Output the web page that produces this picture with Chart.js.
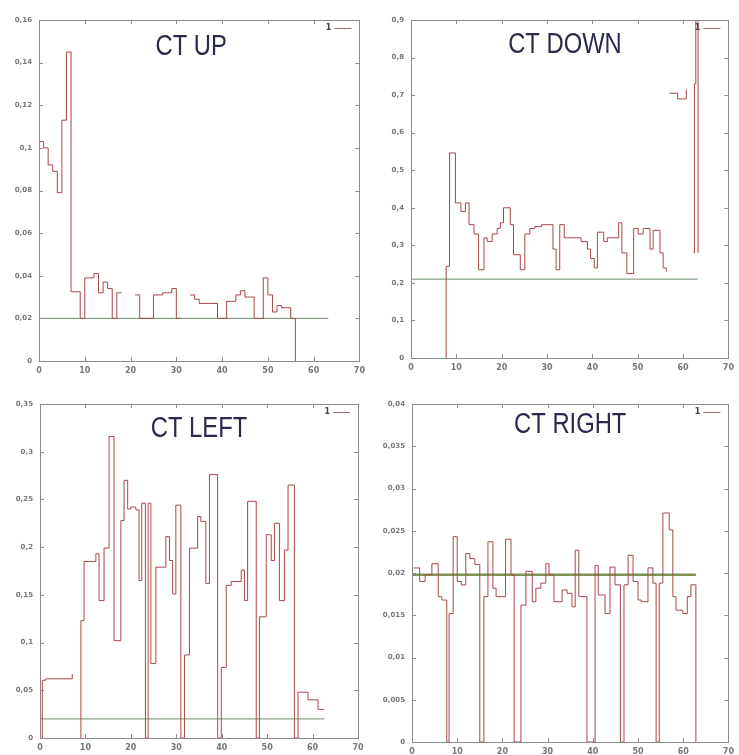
<!DOCTYPE html>
<html>
<head>
<meta charset="utf-8">
<script src="https://cdn.jsdelivr.net/npm/chart.js@4.4.1/dist/chart.umd.min.js"></script>
<style>
  body { margin: 0; background: #fff; width: 739px; height: 755px; position: relative; overflow: hidden; }
  canvas { position: absolute; }
</style>
</head>
<body>
<canvas id="ctUp" width="370" height="378" style="left:0;top:0"></canvas>
<canvas id="ctDown" width="369" height="378" style="left:370px;top:0"></canvas>
<canvas id="ctLeft" width="370" height="377" style="left:0;top:378px"></canvas>
<canvas id="ctRight" width="369" height="377" style="left:370px;top:378px"></canvas>
<script>
// ---- data (step series: value held until next x) ----
const titles = ['CT UP', 'CT DOWN', 'CT LEFT', 'CT RIGHT'];
const keyLabel = '1';
const xTicks = [0, 10, 20, 30, 40, 50, 60, 70];

const upX = [0,1,2,3,4,5,6,7,8,9,10,11,12,13,14,15,16,17,18,19,20,21,22,23,24,25,26,27,28,29,30,31,32,33,34,35,36,37,38,39,40,41,42,43,44,45,46,47,48,49,50,51,52,53,54,55,56];
const upY = [0.103,0.1,0.092,0.089,0.079,0.113,0.145,0.0325,0.0325,0.02,0.039,0.039,0.041,0.032,0.037,0.034,0.02,0.032,0.032,null,null,0.031,0.02,0.02,0.02,0.031,0.031,0.032,0.032,0.034,0.02,0.02,null,0.031,0.029,0.027,0.027,0.027,0.027,0.02,0.02,0.028,0.028,0.031,0.033,0.03,0.03,0.02,0.02,0.039,0.031,0.023,0.026,0.025,0.025,0.02,0];
const upMean = [0.02, 63.2];
const upYTicks = [0, 0.16, 0.02];

const downX = [7.7,7.75,8.5,9.8,11,12,12.8,13.9,14.9,16.1,16.8,17.9,19,19.7,20.4,21.9,22.6,24.1,25.1,26.2,27.3,28.8,31.3,32,32.8,33.8,34.6,37.5,38.9,39.6,40.4,41.1,42.5,43.3,45.8,46.5,47.6,49.1,50.1,51.2,52.7,53.4,54.9,55.6,56.3,56.6,57,58.8,60.7,61,62.3,62.5,62.8,63.3];
const downY = [0,0.244,0.546,0.413,0.39,0.413,0.355,0.33,0.235,0.32,0.31,0.33,0.345,0.36,0.4,0.355,0.275,0.235,0.33,0.345,0.35,0.355,0.29,0.235,0.355,0.32,0.32,0.31,0.29,0.265,0.24,0.335,0.31,0.32,0.36,0.28,0.225,0.345,0.33,0.345,0.29,0.34,0.28,0.24,0.23,null,0.705,0.69,0.715,null,0.28,0.73,0.9,0.28];
const downMean = [0.21, 63.2];
const downYTicks = [0, 0.9, 0.1];

const leftX = [0.4,0.5,1.25,7.1,7.7,8.9,9.0,9.7,12.3,13,14.1,15.2,16.3,17.8,18.5,19.3,20,21.1,21.8,22.4,23.2,23.8,24.4,25.5,27.7,28.5,29.2,29.9,31,31.8,32.9,34.7,35.4,36.5,37.3,39.1,39.9,41,42.1,44.3,45,45.7,47.6,48.3,49.8,50.9,51.6,52.7,53.8,54.6,56,56.8,59,61.2,62.6];
const leftY = [0,0.0605,0.062,0.067,null,0,0.123,0.185,0.193,0.144,0.199,0.316,0.102,0.228,0.27,0.24,0.242,0.239,0.165,0.246,0,0.246,0.078,0.179,0.211,0.186,0.151,0.244,0,0.087,0.199,0.232,0.227,0.162,0.276,0,0.074,0.16,0.164,0.176,0.144,0.248,0,0.127,0.213,0.186,0.225,0.144,0.197,0.265,0,0.048,0.04,0.03,0.03];
const leftMean = [0.02, 62.6];
const leftYTicks = [0, 0.35, 0.05];

const rightX = [0.4,1.7,2.9,4.4,5.8,6.6,7.7,8.2,9.1,10,10.9,11.9,12.8,13.9,15,15.9,16.8,17.9,18.6,20.7,21.9,22.6,24.1,25.2,26.6,27.4,28.5,29.6,30.3,31.4,33.2,34.3,35.4,36.1,36.9,38.7,40.5,41.2,42.7,43.8,44.9,46.1,46.9,47.8,48.9,50,50.7,52.2,53.3,54,54.7,55.5,56.9,57.7,58.4,59.9,60.9,61.7,62.8];
const rightY = [0.0206,0.019,0.0198,0.0211,0.0172,0.0168,0,0.0152,0.0243,0.019,0.0186,0.0223,0.0217,0.021,0,0.0172,0.0237,0.0182,0.0172,0.024,0.0198,0,0.0162,0.0202,0.0166,0.0182,0.0188,0.0211,0.0198,0.0166,0.018,0.0176,0.016,0.0227,0.0172,0,0.0209,0.0174,0.0152,0.0207,0.0186,0,0.0186,0.0221,0.019,0.0168,0.0166,0.0206,0.0188,0,0.0188,0.0271,0.0251,0.0172,0.0156,0.0152,0.0172,0.0186,0];
const rightMean = [0.0198, 62.8];
const rightYTicks = [0, 0.04, 0.005];

// ---- drawing ----
function fmt(v) {
  return String(+v.toFixed(4)).replace('.', ',');
}

const panelDeco = {
  id: 'panelDeco',
  afterDraw(chart, args, opts) {
    const { ctx, chartArea: a } = chart;
    const xs = chart.scales.x, ys = chart.scales.y;
    ctx.save();
    ctx.strokeStyle = '#8c8c8c';
    ctx.lineWidth = 1;
    ctx.strokeRect(Math.round(a.left) + 0.5, Math.round(a.top) + 0.5, Math.round(a.width), Math.round(a.height));
    ctx.beginPath();
    xs.ticks.forEach(t => {
      const px = Math.round(xs.getPixelForValue(t.value)) + 0.5;
      ctx.moveTo(px, a.bottom); ctx.lineTo(px, a.bottom - 4);
      ctx.moveTo(px, a.top); ctx.lineTo(px, a.top + 4);
    });
    ys.ticks.forEach(t => {
      const py = Math.round(ys.getPixelForValue(t.value)) + 0.5;
      ctx.moveTo(a.left, py); ctx.lineTo(a.left + 4, py);
      ctx.moveTo(a.right, py); ctx.lineTo(a.right - 4, py);
    });
    ctx.stroke();
    // title inside plot, narrow
    ctx.save();
    ctx.translate(a.left + a.width * opts.fx, a.top + opts.dy);
    ctx.scale(0.82, 1);
    ctx.fillStyle = '#2a2a4e';
    ctx.font = '29px "Liberation Sans", sans-serif';
    ctx.textAlign = 'center';
    ctx.textBaseline = 'alphabetic';
    ctx.fillText(opts.title, 0, 0);
    ctx.restore();
    // key
    ctx.font = 'bold 8px "DejaVu Sans", sans-serif';
    ctx.fillStyle = '#444';
    ctx.textAlign = 'right';
    ctx.textBaseline = 'middle';
    ctx.fillText(keyLabel, a.right - 28, a.top + 8);
    ctx.strokeStyle = '#a06a6a';
    ctx.beginPath();
    ctx.moveTo(a.right - 25, a.top + 8.5); ctx.lineTo(a.right - 8, a.top + 8.5);
    ctx.stroke();
    ctx.restore();
  }
};

function makeChart(id, xs, ys, mean, yTicks, deco, box) {
  const pts = xs.map((x, i) => ({ x: x, y: ys[i] }));
  const meanPts = [{ x: 0, y: mean[0] }, { x: mean[1], y: mean[0] }];
  return new Chart(document.getElementById(id), {
    type: 'line',
    data: {
      datasets: [
        {
          label: 'mean',
          data: meanPts,
          borderColor: deco.meanColor,
          borderWidth: deco.meanWidth,
          pointRadius: 0,
          order: 2
        },
        {
          label: keyLabel,
          data: pts,
          stepped: true,
          spanGaps: false,
          borderColor: '#a84848',
          borderWidth: 1,
          pointRadius: 0,
          order: 1
        }
      ]
    },
    options: {
      responsive: false,
      animation: false,
      devicePixelRatio: 1,
      layout: { padding: { top: box.top, right: box.right, left: 0, bottom: 0 } },
      plugins: {
        legend: { display: false },
        tooltip: { enabled: false },
        panelDeco: deco
      },
      scales: {
        x: {
          type: 'linear',
          min: 0, max: 70,
          afterBuildTicks: s => { s.ticks = xTicks.map(v => ({ value: v })); },
          afterFit: s => { s.height = box.xh; },
          grid: { display: false, drawTicks: false },
          border: { display: false },
          ticks: { font: { size: 8, family: 'DejaVu Sans', weight: 'bold' }, color: '#777', padding: 5, maxRotation: 0, callback: v => fmt(v) }
        },
        y: {
          min: yTicks[0], max: yTicks[1],
          afterBuildTicks: s => {
            const t = [];
            for (let v = yTicks[0]; v <= yTicks[1] + 1e-9; v += yTicks[2]) t.push({ value: +v.toFixed(5) });
            s.ticks = t;
          },
          afterFit: s => { s.width = box.yw; },
          grid: { display: false, drawTicks: false },
          border: { display: false },
          ticks: { font: { size: 7, family: 'DejaVu Sans', weight: 'bold' }, color: '#777', padding: 7, callback: v => fmt(v) }
        }
      }
    },
    plugins: [panelDeco]
  });
}

makeChart('ctUp', upX, upY, upMean, upYTicks,
  { title: titles[0], fx: 0.475, dy: 35, meanColor: '#6f8f6f', meanWidth: 1 },
  { top: 20, right: 5, yw: 39, xh: 17 });
makeChart('ctDown', downX, downY, downMean, downYTicks,
  { title: titles[1], fx: 0.485, dy: 33, meanColor: '#6f8f6f', meanWidth: 1 },
  { top: 20, right: 5, yw: 41, xh: 20 });
makeChart('ctLeft', leftX, leftY, leftMean, leftYTicks,
  { title: titles[2], fx: 0.5, dy: 33, meanColor: '#6f8f6f', meanWidth: 1 },
  { top: 26, right: 12, yw: 40, xh: 17 });
makeChart('ctRight', rightX, rightY, rightMean, rightYTicks,
  { title: titles[3], fx: 0.5, dy: 29, meanColor: '#7f9357', meanWidth: 2.5 },
  { top: 26, right: 8, yw: 42, xh: 13 });
</script>
</body>
</html>
